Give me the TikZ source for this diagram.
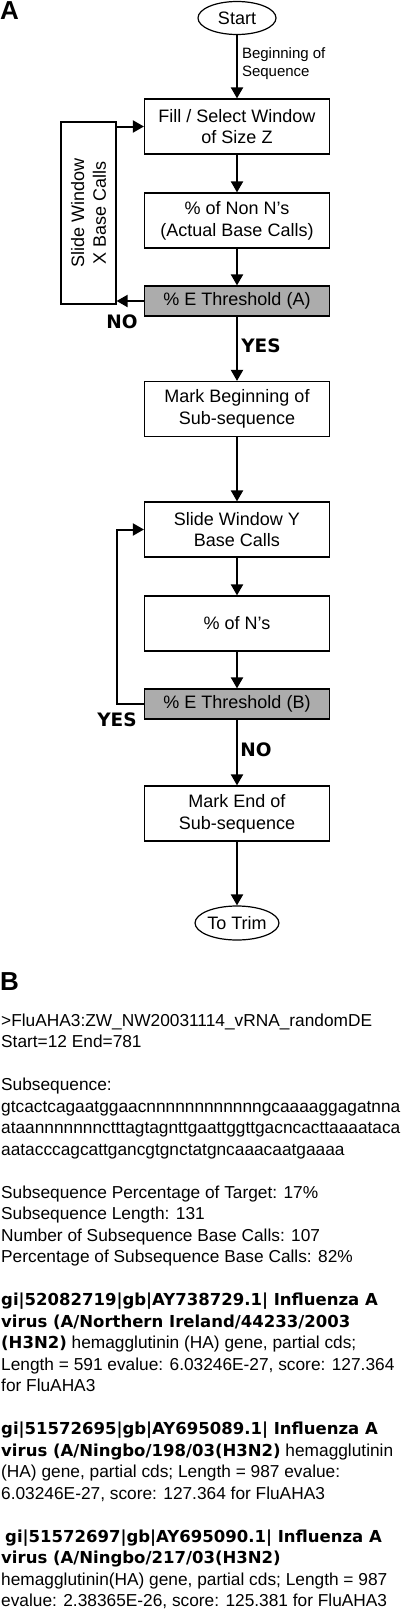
\documentclass[tikz,border=0pt]{standalone}
\usepackage{fontspec}
\setmainfont{Liberation Sans}
\newfontfamily\heavyfont{DejaVu Sans}
\usepackage{tikz}
\usetikzlibrary{shapes,arrows.meta,positioning,calc}

\newcommand{\hv}[1]{{\heavyfont\bfseries\fontsize{16.5}{21.5}\selectfont #1}}

\begin{document}
\begin{tikzpicture}[x=1pt,y=-1pt,
    box/.style={draw, line width=1.2pt, minimum width=185pt, minimum height=55pt, align=center, inner sep=2pt, font=\fontsize{18}{21.7}\selectfont},
    thrbox/.style={box, fill=gray!65, minimum height=30pt},
    term/.style={draw, ellipse, line width=1.2pt, minimum width=78pt, minimum height=33pt, inner sep=0pt, font=\fontsize{18}{21.7}\selectfont},
    answer/.style={inner sep=0pt, font=\heavyfont\bfseries\fontsize{18.5}{20}\selectfont},
    panel/.style={anchor=north west, inner sep=0pt, font=\bfseries\fontsize{26}{28}\selectfont},
    seqtext/.style={align=left, anchor=base west, inner sep=0pt, font=\fontsize{17.3}{21.5}\selectfont},
    flow/.style={-{Triangle[length=11pt,width=12pt]}, line width=2pt}]
    \useasboundingbox (0,0) rectangle (400,1611);

    % A: flow chart
    \node[panel] (panA) at (0,1.5) {A};
    \node[term] (start) at (237,18) {Start};
    \node[box] (fill) at (237,126.5) {Fill / Select Window\\of Size Z};
    \node[box] (nonn) at (237,220.5) {\% of Non N’s\\(Actual Base Calls)};
    \node[thrbox] (thrA) at (237,301) {\% E Threshold (A)};
    \node[box, rotate=90, minimum width=182pt, minimum height=55pt] (slidex) at (88.5,213) {Slide Window\\X Base Calls};
    \node[box] (markbeg) at (237,409) {Mark Beginning of\\Sub-sequence};
    \node[box] (slidey) at (237,529.5) {Slide Window Y\\Base Calls};
    \node[box] (pctn) at (237,623.5) {\% of N’s};
    \node[thrbox] (thrB) at (237,704) {\% E Threshold (B)};
    \node[box] (markend) at (237,813.5) {Mark End of\\Sub-sequence};
    \node[term, minimum height=34pt] (totrim) at (237,923) {To Trim};

    \draw[flow] (start) -- node[right, pos=0.45, align=left, inner sep=4pt, font=\fontsize{15}{18.3}\selectfont] (begseq) {Beginning of\\Sequence} (fill);
    \foreach \a/\b in {fill/nonn, nonn/thrA, thrA/markbeg, markbeg/slidey, slidey/pctn, pctn/thrB, thrB/markend, markend/totrim}
        \draw[flow] (\a) -- (\b);

    % loops
    \draw[flow] (thrA.west) -- (thrA.west -| slidex.south);
    \draw[flow] (slidex.south |- fill.west) -- (fill.west);
    \draw[flow] (thrB.west) -- ++(-27,0) |- (slidey.west);

    \node[answer] (noA) at (122,322) {NO};
    \node[answer] (yesA) at (261,346) {YES};
    \node[answer] (yesB) at (117,720) {YES};
    \node[answer] (noB) at (256,750) {NO};

    % B: example output (base = last line)
    \node[panel] (panB) at (0,972) {B};
    \node[seqtext] (header) at (1,1047.5) {>FluAHA3:ZW\_NW20031114\_vRNA\_randomDE\\Start=12 End=781};
    \node[seqtext] (subseq) at (1,1155) {Subsequence:\\gtcactcagaatggaacnnnnnnnnnnnngcaaaaggagatnna\\ataannnnnnnctttagtagnttgaattggttgacncacttaaaataca\\aatacccagcattgancgtgnctatgncaaacaatgaaaa};
    \node[seqtext] (stats) at (1,1262.5) {Subsequence Percentage of Target: 17\%\\Subsequence Length: 131\\Number of Subsequence Base Calls: 107\\Percentage of Subsequence Base Calls: 82\%};
    \node[seqtext] (hitone) at (1,1391.5) {\hv{gi|52082719|gb|AY738729.1| Influenza A}\\\hv{virus (A/Northern Ireland/44233/2003}\\\hv{(H3N2)} hemagglutinin (HA) gene, partial cds;\\Length = 591 evalue: 6.03246E-27, score: 127.364\\for FluAHA3};
    \node[seqtext] (hittwo) at (1,1499) {\hv{gi|51572695|gb|AY695089.1| Influenza A}\\\hv{virus (A/Ningbo/198/03(H3N2)} hemagglutinin\\(HA) gene, partial cds; Length = 987 evalue:\\6.03246E-27, score: 127.364 for FluAHA3};
    \node[seqtext] (hitthree) at (1,1606.5) {\hspace*{4pt}\hv{gi|51572697|gb|AY695090.1| Influenza A}\\\hv{virus (A/Ningbo/217/03(H3N2)}\\hemagglutinin(HA) gene, partial cds; Length = 987\\evalue: 2.38365E-26, score: 125.381 for FluAHA3};
\end{tikzpicture}
\end{document}
